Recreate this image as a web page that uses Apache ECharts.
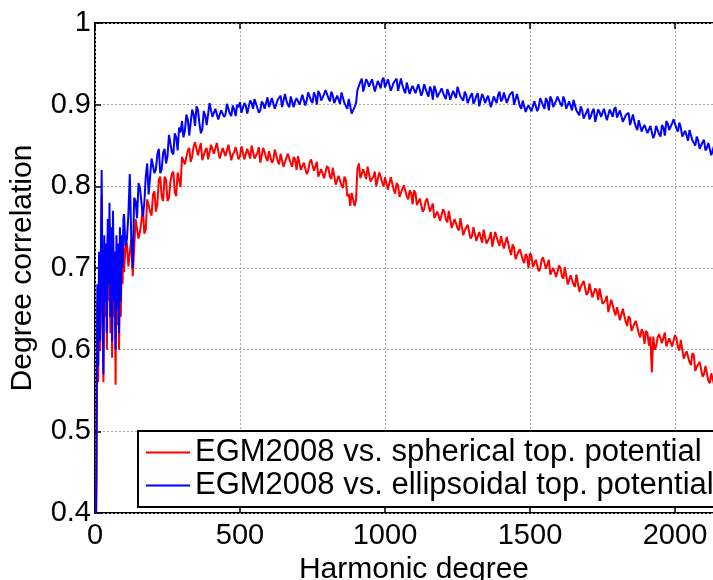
<!DOCTYPE html>
<html>
<head>
<meta charset="utf-8">
<script src="https://cdn.jsdelivr.net/npm/echarts@6/dist/echarts.min.js"></script>
<style>
html,body{margin:0;padding:0;background:#fff;}
#chart{width:713px;height:580px;}
</style>
</head>
<body>
<div id="chart"></div>
<script>
// Harmonic degrees sampled: 2..98 step 3, then 100..2160 step 10 (main) with 105..2155 step 10 (mid)
const earlyDegrees = [2,5,8,11,14,17,20,23,26,29,32,35,38,41,44,47,50,53,56,59,62,65,68,71,74,77,80,83,86,89,92,95,98];
const mainStart = 100, midStart = 105, step = 10;

const sphericalEarly = [0.35,0.43,0.66,0.56,0.70,0.60,0.69,0.79,0.63,0.56,0.72,0.64,0.71,0.60,0.74,0.66,0.76,0.62,0.73,0.59,0.75,0.64,0.70,0.557,0.72,0.63,0.71,0.60,0.73,0.64,0.72,0.68,0.73];
const ellipsoidalEarly = [0.35,0.45,0.68,0.58,0.72,0.61,0.70,0.82,0.65,0.57,0.74,0.66,0.73,0.62,0.76,0.68,0.78,0.64,0.75,0.61,0.77,0.66,0.72,0.60,0.74,0.65,0.73,0.62,0.75,0.66,0.74,0.70,0.76];

const spherical = [
0.695,0.731,0.702,0.69,0.76,0.736,0.757,0.742,0.784,0.769,
0.79,0.769,0.808,0.787,0.812,0.782,0.806,0.818,0.788,0.818,
0.836,0.827,0.844,0.83,0.849,0.855,0.838,0.832,0.844,0.833,
0.851,0.84,0.853,0.834,0.847,0.837,0.851,0.832,0.842,0.848,
0.837,0.849,0.832,0.845,0.85,0.834,0.841,0.829,0.847,0.835,
0.843,0.829,0.845,0.831,0.84,0.824,0.835,0.841,0.824,0.833,
0.837,0.82,0.829,0.815,0.829,0.833,0.818,0.812,0.821,0.81,
0.825,0.812,0.823,0.802,0.813,0.801,0.812,0.788,0.776,0.79,
0.783,0.828,0.808,0.819,0.824,0.806,0.812,0.80,0.817,0.805,
0.811,0.796,0.811,0.796,0.804,0.787,0.797,0.802,0.784,0.792,
0.795,0.777,0.785,0.769,0.782,0.785,0.768,0.761,0.769,0.758,
0.772,0.759,0.77,0.749,0.76,0.749,0.761,0.74,0.748,0.752,
0.739,0.75,0.731,0.742,0.747,0.73,0.737,0.726,0.744,0.732,
0.739,0.724,0.738,0.722,0.729,0.711,0.72,0.724,0.706,0.714,
0.718,0.701,0.71,0.696,0.71,0.714,0.699,0.692,0.70,0.689,
0.703,0.69,0.701,0.68,0.691,0.68,0.692,0.671,0.679,0.683,
0.67,0.681,0.662,0.672,0.675,0.656,0.66,0.646,0.661,0.647,
0.652,0.636,0.65,0.634,0.641,0.623,0.632,0.635,0.615,0.621,
0.623,0.605,0.572,0.60,0.615,0.621,0.608,0.604,0.614,0.604,
0.618,0.603,0.612,0.589,0.598,0.585,0.596,0.574,0.581,0.584,
0.57,0.58,0.559,0.569,0.571,0.552,0.556
];
const sphericalMid = [
0.724,0.702,0.735,0.723,0.762,0.744,0.774,0.747,0.777,0.764,
0.794,0.778,0.812,0.782,0.808,0.786,0.815,0.793,0.817,0.799,
0.838,0.828,0.847,0.836,0.854,0.838,0.853,0.832,0.847,0.835,
0.849,0.838,0.853,0.835,0.847,0.835,0.85,0.839,0.848,0.833,
0.849,0.833,0.846,0.834,0.849,0.836,0.848,0.83,0.842,0.831,
0.844,0.832,0.846,0.827,0.838,0.826,0.84,0.828,0.836,0.82,
0.835,0.819,0.831,0.819,0.833,0.819,0.83,0.812,0.823,0.811,
0.822,0.809,0.822,0.802,0.812,0.798,0.808,0.791,0.792,0.776,
0.822,0.81,0.821,0.809,0.822,0.808,0.818,0.801,0.812,0.80,
0.811,0.798,0.811,0.791,0.801,0.788,0.801,0.788,0.795,0.778,
0.792,0.775,0.785,0.772,0.785,0.769,0.779,0.76,0.77,0.758,
0.769,0.756,0.769,0.749,0.759,0.746,0.759,0.746,0.753,0.736,
0.75,0.733,0.744,0.731,0.745,0.732,0.744,0.727,0.738,0.727,
0.739,0.725,0.737,0.716,0.725,0.711,0.723,0.71,0.717,0.70,
0.715,0.699,0.711,0.699,0.713,0.699,0.71,0.691,0.701,0.689,
0.70,0.687,0.70,0.68,0.69,0.677,0.69,0.677,0.684,0.667,
0.681,0.664,0.675,0.661,0.673,0.657,0.666,0.646,0.655,0.642,
0.652,0.638,0.65,0.629,0.638,0.624,0.635,0.62,0.625,0.607,
0.62,0.616,0.616,0.604,0.619,0.608,0.621,0.604,0.616,0.604,
0.614,0.599,0.61,0.588,0.596,0.581,0.593,0.579,0.585,0.567,
0.58,0.562,0.571,0.557,0.568,0.552
];

const ellipsoidal = [
0.766,0.735,0.815,0.70,0.782,0.804,0.781,0.779,0.828,0.792,
0.832,0.821,0.846,0.821,0.846,0.837,0.864,0.839,0.86,0.872,
0.88,0.868,0.882,0.864,0.888,0.898,0.877,0.87,0.887,0.874,
0.893,0.886,0.897,0.883,0.894,0.888,0.90,0.886,0.894,0.90,
0.903,0.892,0.899,0.89,0.902,0.907,0.896,0.893,0.901,0.895,
0.897,0.908,0.895,0.906,0.911,0.899,0.905,0.897,0.911,0.904,
0.91,0.901,0.914,0.905,0.913,0.902,0.911,0.917,0.905,0.913,
0.917,0.904,0.911,0.90,0.911,0.915,0.902,0.895,0.898,0.889,
0.902,0.92,0.932,0.917,0.928,0.921,0.932,0.917,0.925,0.93,
0.921,0.931,0.917,0.927,0.932,0.918,0.924,0.914,0.928,0.919,
0.925,0.914,0.927,0.916,0.923,0.91,0.918,0.923,0.909,0.916,
0.919,0.907,0.914,0.905,0.918,0.922,0.91,0.905,0.912,0.904,
0.914,0.905,0.914,0.899,0.909,0.901,0.912,0.898,0.906,0.912,
0.904,0.915,0.902,0.912,0.916,0.902,0.906,0.895,0.906,0.896,
0.901,0.892,0.906,0.897,0.906,0.895,0.904,0.91,0.897,0.905,
0.91,0.898,0.905,0.894,0.904,0.906,0.893,0.887,0.893,0.884,
0.895,0.886,0.895,0.88,0.891,0.885,0.897,0.882,0.89,0.894,
0.884,0.893,0.879,0.887,0.89,0.875,0.879,0.869,0.882,0.872,
0.876,0.864,0.875,0.864,0.872,0.861,0.872,0.88,0.869,0.877,
0.881,0.867,0.872,0.859,0.868,0.869,0.856,0.85,0.856,0.847,
0.857,0.847,0.855,0.838,0.845,0.835,0.843
];
const ellipsoidalMid = [
0.727,0.765,0.736,0.786,0.761,0.798,0.763,0.812,0.79,0.834,
0.816,0.839,0.816,0.841,0.828,0.863,0.842,0.865,0.844,0.866,
0.86,0.888,0.862,0.894,0.874,0.894,0.865,0.892,0.875,0.902,
0.885,0.895,0.882,0.893,0.885,0.901,0.889,0.899,0.886,0.897,
0.89,0.902,0.889,0.905,0.895,0.905,0.89,0.904,0.895,0.909,
0.899,0.909,0.895,0.906,0.897,0.913,0.90,0.91,0.897,0.908,
0.90,0.912,0.899,0.915,0.905,0.915,0.90,0.913,0.905,0.918,
0.908,0.916,0.902,0.911,0.901,0.916,0.901,0.907,0.889,0.897,
0.918,0.928,0.916,0.931,0.922,0.931,0.916,0.929,0.92,0.933,
0.923,0.931,0.917,0.927,0.917,0.932,0.918,0.927,0.913,0.923,
0.914,0.925,0.911,0.925,0.914,0.922,0.906,0.918,0.908,0.92,
0.91,0.919,0.906,0.917,0.908,0.922,0.908,0.916,0.902,0.911,
0.901,0.911,0.898,0.913,0.902,0.911,0.897,0.91,0.902,0.916,
0.907,0.916,0.902,0.911,0.90,0.913,0.898,0.905,0.891,0.899,
0.892,0.904,0.892,0.908,0.899,0.908,0.893,0.906,0.897,0.91,
0.901,0.91,0.895,0.904,0.893,0.906,0.891,0.898,0.883,0.891,
0.882,0.892,0.879,0.894,0.885,0.895,0.881,0.894,0.885,0.897,
0.885,0.893,0.878,0.886,0.875,0.888,0.873,0.881,0.867,0.875,
0.865,0.874,0.859,0.874,0.864,0.875,0.862,0.877,0.869,0.882,
0.871,0.878,0.861,0.868,0.856,0.869,0.854,0.861,0.846,0.854,
0.844,0.853,0.838,0.85,0.837,0.843
];

const xTicks = [0,500,1000,1500,2000];
const yTicks = [0.4,0.5,0.6,0.7,0.8,0.9,1];
const seriesNames = ['EGM2008 vs. spherical top. potential','EGM2008 vs. ellipsoidal top. potential'];

function buildPairs(early, main, mid){
  const out = [];
  for (let i = 0; i < earlyDegrees.length; i++) out.push([earlyDegrees[i], early[i]]);
  for (let i = 0; i < main.length; i++) {
    out.push([mainStart + i*step, main[i]]);
    if (i < mid.length) out.push([midStart + i*step, mid[i]]);
  }
  return out;
}

const FONT = '"Liberation Sans", Arial, sans-serif';
const chart = echarts.init(document.getElementById('chart'), null, {renderer:'canvas'});
const tickFmt = v => xTicks.indexOf(v) >= 0 ? String(v) : '';

chart.setOption({
  animation:false,
  backgroundColor:'#fff',
  grid:{left:95, top:23, width:638, height:490, show:true, borderColor:'#000', borderWidth:2,
        backgroundColor:'transparent', containLabel:false, outerBoundsMode:'none'},
  legend:{
    orient:'vertical', left:138, top:431,
    data:seriesNames,
    icon:'rect', itemWidth:44, itemHeight:2, itemGap:2,
    padding:[6,40,6,8],
    backgroundColor:'#fff', borderColor:'#000', borderWidth:2, borderRadius:0,
    textStyle:{fontFamily:FONT, fontSize:31, color:'#000', lineHeight:31},
    selectedMode:false
  },
  xAxis:[{
    type:'value', min:0, max:2200, interval:500, position:'bottom',
    name:'Harmonic degree', nameLocation:'middle', nameGap:38,
    nameTextStyle:{fontFamily:FONT, fontSize:30, color:'#000'},
    axisLine:{show:false},
    axisTick:{show:true, inside:true, length:6, lineStyle:{color:'#000', width:1.5}},
    axisLabel:{fontFamily:FONT, fontSize:29, color:'#000', margin:8, formatter:tickFmt, showMaxLabel:false},
    splitLine:{show:true, lineStyle:{color:'#a8a8a8', type:[2,2], width:1}}
  },{
    type:'value', min:0, max:2200, interval:500, position:'top',
    axisLine:{show:false},
    axisTick:{show:true, inside:true, length:6, lineStyle:{color:'#000', width:1.5}},
    axisLabel:{show:false},
    splitLine:{show:false}
  }],
  yAxis:{
    type:'value', min:0.4, max:1, interval:0.1,
    name:'Degree correlation', nameLocation:'middle', nameGap:57, nameRotate:90,
    nameTextStyle:{fontFamily:FONT, fontSize:30, color:'#000'},
    axisLine:{show:false},
    axisTick:{show:true, inside:true, length:6, lineStyle:{color:'#000', width:1.5}},
    axisLabel:{fontFamily:FONT, fontSize:29, color:'#000', margin:4,
      formatter:v => Math.abs(v-1) < 1e-9 ? '1' : v.toFixed(1)},
    splitLine:{show:true, lineStyle:{color:'#a8a8a8', type:[2,2], width:1}}
  },
  series:[{
    name:seriesNames[0], type:'line', xAxisIndex:0, showSymbol:false, symbol:'none',
    data:buildPairs(sphericalEarly, spherical, sphericalMid),
    lineStyle:{color:'#ff0000', width:2}, itemStyle:{color:'#ff0000'}, clip:true
  },{
    name:seriesNames[1], type:'line', xAxisIndex:0, showSymbol:false, symbol:'none',
    data:buildPairs(ellipsoidalEarly, ellipsoidal, ellipsoidalMid),
    lineStyle:{color:'#0000ff', width:2}, itemStyle:{color:'#0000ff'}, clip:true
  }]
});
</script>
</body>
</html>
